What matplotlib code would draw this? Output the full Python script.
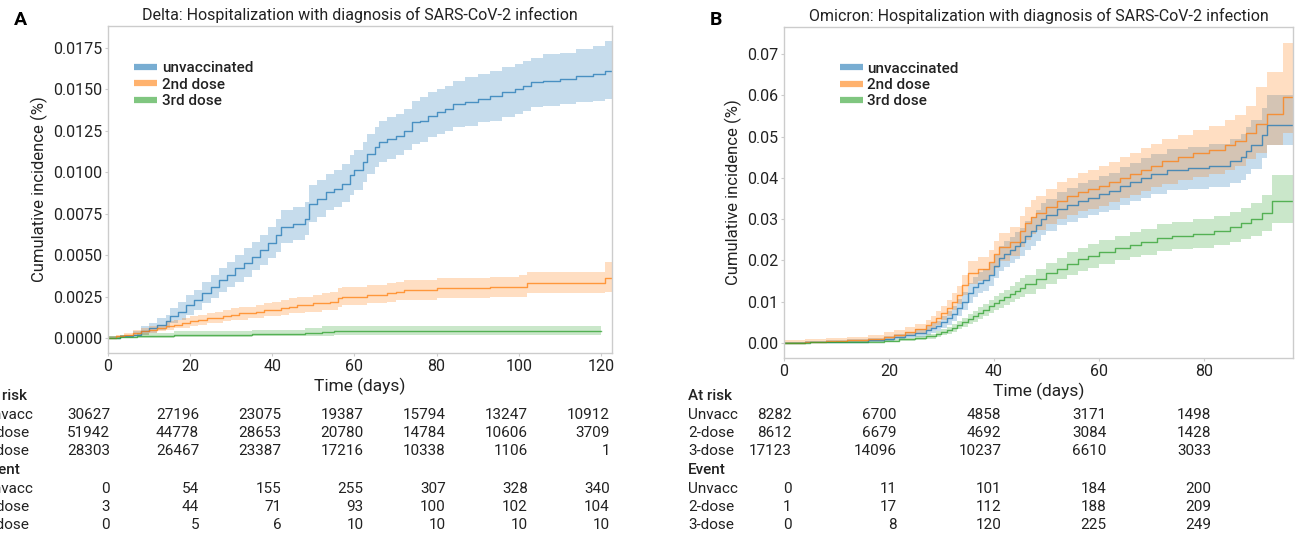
import matplotlib
matplotlib.use("Agg")
import matplotlib.pyplot as plt
import matplotlib.transforms as mtransforms
from matplotlib.lines import Line2D
import numpy as np

plt.rcParams['font.family'] = ['Roboto', 'DejaVu Sans']

# ---- Delta (panel A) ----
delta_unvacc_t = [0, 3, 6, 8, 10, 12, 14, 15, 17, 19, 21, 23, 25, 27, 29, 31, 33, 35, 37, 39,
                  41, 42, 45, 48, 49, 51, 53, 55, 57, 59, 60, 62, 63, 65, 66, 68, 70, 72, 74, 76,
                  78, 80, 82, 84, 87, 90, 93, 96, 99, 101, 103, 106, 110, 114, 118, 121]
delta_unvacc = [0.0000, 0.0001, 0.0002, 0.0004, 0.0006, 0.0008, 0.0010, 0.0013, 0.0016, 0.0020,
                0.0023, 0.0027, 0.0031, 0.0035, 0.0038, 0.0042, 0.0045, 0.0049, 0.0053, 0.0057,
                0.0062, 0.0067, 0.0069, 0.0072, 0.0081, 0.0084, 0.0088, 0.0090, 0.0093, 0.0098,
                0.0101, 0.0106, 0.0111, 0.0115, 0.0118, 0.0120, 0.0122, 0.0125, 0.0130, 0.0131,
                0.0134, 0.0136, 0.0138, 0.0141, 0.0142, 0.0144, 0.0146, 0.0148, 0.0150, 0.0152,
                0.0154, 0.0155, 0.0156, 0.0158, 0.0159, 0.0161]
delta_unvacc_hi = [0.0001, 0.0002, 0.0004, 0.0007, 0.0009, 0.0012, 0.0014, 0.0018, 0.0022, 0.0026,
                   0.0029, 0.0034, 0.0038, 0.0042, 0.0046, 0.0050, 0.0054, 0.0058, 0.0062, 0.0067,
                   0.0072, 0.0077, 0.0079, 0.0082, 0.0092, 0.0095, 0.0099, 0.0101, 0.0105, 0.0110,
                   0.0113, 0.0118, 0.0123, 0.0127, 0.0131, 0.0133, 0.0135, 0.0138, 0.0143, 0.0145,
                   0.0148, 0.0150, 0.0152, 0.0155, 0.0157, 0.0159, 0.0161, 0.0163, 0.0165, 0.0167,
                   0.0169, 0.0171, 0.0172, 0.0174, 0.0176, 0.0179]
delta_unvacc_lo = [0.0000, 0.0000, 0.0001, 0.0002, 0.0003, 0.0005, 0.0006, 0.0009, 0.0011, 0.0014,
                   0.0017, 0.0021, 0.0024, 0.0028, 0.0031, 0.0034, 0.0037, 0.0041, 0.0044, 0.0048,
                   0.0052, 0.0057, 0.0059, 0.0062, 0.0070, 0.0073, 0.0077, 0.0079, 0.0082, 0.0086,
                   0.0089, 0.0094, 0.0099, 0.0103, 0.0106, 0.0108, 0.0110, 0.0113, 0.0117, 0.0118,
                   0.0121, 0.0123, 0.0125, 0.0127, 0.0128, 0.0130, 0.0131, 0.0133, 0.0135, 0.0137,
                   0.0139, 0.0140, 0.0141, 0.0142, 0.0143, 0.0144]

delta_dose2_t = [0, 2, 4, 6, 8, 10, 12, 14, 16, 18, 20, 22, 24, 26, 28, 30, 32, 34, 36, 38,
                 40, 42, 44, 46, 48, 50, 52, 54, 56, 57, 60, 63, 66, 68, 70, 72, 75, 80, 85, 90,
                 93, 100, 102, 110, 121]
delta_dose2 = [0.0000, 0.0001, 0.0002, 0.0003, 0.0004, 0.0005, 0.0006, 0.0007, 0.0008, 0.0009,
               0.0010, 0.0011, 0.0012, 0.0012, 0.0013, 0.0014, 0.0015, 0.0015, 0.0016, 0.0017,
               0.0017, 0.0018, 0.0019, 0.0020, 0.0020, 0.0021, 0.0021, 0.0022, 0.0024, 0.0025,
               0.0025, 0.0026, 0.0026, 0.0027, 0.0028, 0.0029, 0.0029, 0.0030, 0.0030, 0.0030,
               0.0031, 0.0031, 0.0033, 0.0033, 0.0036]
delta_dose2_hi = [0.0001, 0.0002, 0.0003, 0.0005, 0.0006, 0.0007, 0.0008, 0.0010, 0.0011, 0.0012,
                  0.0013, 0.0014, 0.0015, 0.0016, 0.0017, 0.0018, 0.0019, 0.0019, 0.0020, 0.0021,
                  0.0022, 0.0023, 0.0024, 0.0025, 0.0025, 0.0026, 0.0027, 0.0028, 0.0030, 0.0031,
                  0.0031, 0.0032, 0.0032, 0.0033, 0.0034, 0.0035, 0.0035, 0.0036, 0.0036, 0.0036,
                  0.0037, 0.0038, 0.0040, 0.0040, 0.0046]
delta_dose2_lo = [0.0000, 0.0000, 0.0001, 0.0001, 0.0002, 0.0003, 0.0004, 0.0005, 0.0006, 0.0006,
                  0.0007, 0.0008, 0.0009, 0.0009, 0.0010, 0.0011, 0.0011, 0.0012, 0.0012, 0.0013,
                  0.0013, 0.0014, 0.0015, 0.0015, 0.0016, 0.0016, 0.0017, 0.0017, 0.0019, 0.0020,
                  0.0020, 0.0021, 0.0021, 0.0022, 0.0023, 0.0023, 0.0023, 0.0024, 0.0024, 0.0024,
                  0.0025, 0.0025, 0.0027, 0.0027, 0.0028]

delta_dose3_t = [0, 3, 7, 10, 16, 25, 35, 45, 48, 52, 55, 120]
delta_dose3 = [0.0, 0.00005, 0.0001, 0.00012, 0.0002, 0.0002, 0.00022, 0.00025, 0.0003, 0.00035, 0.0004, 0.0004]
delta_dose3_hi = [0.0001, 0.0002, 0.0003, 0.0003, 0.0004, 0.00045, 0.0005, 0.0005, 0.0006, 0.0007, 0.00075, 0.00075]
delta_dose3_lo = [0.0, 0.0, 0.0, 0.0, 0.00005, 0.00005, 0.0001, 0.0001, 0.00012, 0.00015, 0.00016, 0.00016]

# ---- Omicron (panel B) ----
omi_unvacc_t = [0, 4, 8, 12, 16, 19, 21, 23, 25, 27, 28, 29, 30, 31, 32, 33, 34, 35, 36, 37,
                38, 39, 40, 41, 42, 43, 44, 45, 46, 47, 48, 49, 50, 52, 54, 56, 58, 60, 62, 64,
                66, 68, 70, 73, 77, 81, 85, 87, 88, 89, 91, 92]
omi_unvacc = [0.0000, 0.0001, 0.0002, 0.0003, 0.0006, 0.0010, 0.0014, 0.0018, 0.0024, 0.0030,
              0.0035, 0.0040, 0.0050, 0.0060, 0.0070, 0.0085, 0.0100, 0.0120, 0.0135, 0.0145,
              0.0152, 0.0165, 0.0185, 0.0205, 0.0215, 0.0225, 0.0235, 0.0245, 0.0260, 0.0270,
              0.0285, 0.0300, 0.0310, 0.0325, 0.0335, 0.0345, 0.0352, 0.0360, 0.0368, 0.0380,
              0.0390, 0.0400, 0.0410, 0.0420, 0.0425, 0.0430, 0.0440, 0.0450, 0.0465, 0.0480,
              0.0505, 0.0528]
omi_unvacc_hi = [0.0003, 0.0004, 0.0006, 0.0008, 0.0012, 0.0017, 0.0022, 0.0027, 0.0034, 0.0041,
                 0.0047, 0.0053, 0.0065, 0.0077, 0.0088, 0.0105, 0.0122, 0.0144, 0.0160, 0.0171,
                 0.0179, 0.0193, 0.0214, 0.0235, 0.0246, 0.0257, 0.0268, 0.0279, 0.0295, 0.0306,
                 0.0322, 0.0338, 0.0349, 0.0365, 0.0376, 0.0387, 0.0395, 0.0404, 0.0413, 0.0426,
                 0.0437, 0.0448, 0.0459, 0.0470, 0.0476, 0.0482, 0.0494, 0.0506, 0.0523, 0.0540,
                 0.0570, 0.0600]
omi_unvacc_lo = [0.0000, 0.0000, 0.0000, 0.0001, 0.0003, 0.0005, 0.0008, 0.0011, 0.0015, 0.0020,
                 0.0024, 0.0028, 0.0036, 0.0044, 0.0053, 0.0066, 0.0079, 0.0097, 0.0111, 0.0120,
                 0.0126, 0.0138, 0.0157, 0.0175, 0.0184, 0.0193, 0.0202, 0.0211, 0.0225, 0.0234,
                 0.0248, 0.0262, 0.0271, 0.0285, 0.0294, 0.0303, 0.0309, 0.0316, 0.0323, 0.0334,
                 0.0343, 0.0352, 0.0361, 0.0370, 0.0374, 0.0378, 0.0387, 0.0396, 0.0409, 0.0422,
                 0.0448, 0.0480]

omi_dose2_t = [0, 4, 8, 12, 16, 19, 21, 23, 25, 27, 28, 29, 30, 31, 32, 33, 34, 35, 37, 39,
               40, 41, 43, 45, 46, 47, 48, 50, 52, 54, 56, 58, 60, 62, 64, 66, 68, 70, 72, 75,
               78, 81, 84, 86, 88, 90, 92, 95]
omi_dose2 = [0.0000, 0.0002, 0.0004, 0.0006, 0.0010, 0.0015, 0.0020, 0.0026, 0.0033, 0.0042,
             0.0050, 0.0060, 0.0072, 0.0085, 0.0100, 0.0115, 0.0140, 0.0170, 0.0180, 0.0195,
             0.0215, 0.0232, 0.0245, 0.0270, 0.0290, 0.0305, 0.0315, 0.0330, 0.0345, 0.0355,
             0.0365, 0.0372, 0.0380, 0.0390, 0.0400, 0.0410, 0.0420, 0.0430, 0.0440, 0.0450,
             0.0460, 0.0468, 0.0480, 0.0490, 0.0510, 0.0530, 0.0555, 0.0595]
omi_dose2_hi = [0.0006, 0.0008, 0.0011, 0.0014, 0.0019, 0.0025, 0.0031, 0.0038, 0.0046, 0.0056,
                0.0065, 0.0076, 0.0090, 0.0104, 0.0121, 0.0138, 0.0165, 0.0198, 0.0209, 0.0226,
                0.0248, 0.0266, 0.0280, 0.0308, 0.0330, 0.0346, 0.0357, 0.0373, 0.0389, 0.0400,
                0.0411, 0.0419, 0.0428, 0.0439, 0.0450, 0.0461, 0.0472, 0.0483, 0.0494, 0.0505,
                0.0517, 0.0526, 0.0540, 0.0552, 0.0575, 0.0620, 0.0656, 0.0728]
omi_dose2_lo = [0.0000, 0.0001, 0.0002, 0.0003, 0.0005, 0.0008, 0.0012, 0.0016, 0.0022, 0.0029,
                0.0035, 0.0044, 0.0054, 0.0066, 0.0080, 0.0093, 0.0115, 0.0142, 0.0151, 0.0164,
                0.0182, 0.0198, 0.0210, 0.0232, 0.0250, 0.0264, 0.0273, 0.0287, 0.0301, 0.0310,
                0.0319, 0.0325, 0.0332, 0.0341, 0.0350, 0.0359, 0.0368, 0.0377, 0.0386, 0.0395,
                0.0403, 0.0410, 0.0420, 0.0428, 0.0445, 0.0460, 0.0480, 0.0509]

omi_dose3_t = [0, 5, 10, 15, 19, 22, 25, 27, 29, 30, 31, 32, 33, 34, 35, 36, 37, 38, 39,
               40, 41, 42, 43, 44, 45, 46, 48, 50, 52, 54, 56, 58, 60, 63, 66, 68, 71, 74, 78,
               82, 85, 87, 89, 91, 93]
omi_dose3 = [0.0000, 0.0001, 0.0002, 0.0003, 0.0005, 0.0008, 0.0012, 0.0016, 0.0022, 0.0026,
             0.0030, 0.0036, 0.0043, 0.0050, 0.0057, 0.0064, 0.0072, 0.0080, 0.0088,
             0.0096, 0.0103, 0.0110, 0.0118, 0.0126, 0.0134, 0.0142, 0.0155, 0.0168, 0.0180,
             0.0192, 0.0202, 0.0210, 0.0220, 0.0230, 0.0238, 0.0245, 0.0255, 0.0260, 0.0265,
             0.0272, 0.0280, 0.0290, 0.0300, 0.0315, 0.0344]
omi_dose3_hi = [0.0001, 0.0002, 0.0004, 0.0005, 0.0008, 0.0012, 0.0017, 0.0022, 0.0029, 0.0034,
                0.0038, 0.0045, 0.0053, 0.0061, 0.0069, 0.0077, 0.0086, 0.0095, 0.0104,
                0.0113, 0.0121, 0.0129, 0.0138, 0.0147, 0.0156, 0.0165, 0.0179, 0.0193, 0.0206,
                0.0219, 0.0230, 0.0239, 0.0249, 0.0260, 0.0269, 0.0277, 0.0288, 0.0293, 0.0299,
                0.0307, 0.0316, 0.0328, 0.0340, 0.0358, 0.0407]
omi_dose3_lo = [0.0000, 0.0000, 0.0001, 0.0001, 0.0002, 0.0004, 0.0007, 0.0010, 0.0015, 0.0018,
                0.0022, 0.0027, 0.0033, 0.0039, 0.0045, 0.0051, 0.0058, 0.0065, 0.0072,
                0.0079, 0.0085, 0.0091, 0.0098, 0.0105, 0.0112, 0.0119, 0.0131, 0.0143, 0.0154,
                0.0165, 0.0174, 0.0181, 0.0191, 0.0200, 0.0207, 0.0213, 0.0222, 0.0227, 0.0231,
                0.0237, 0.0244, 0.0252, 0.0260, 0.0272, 0.0290]

series_labels = ['unvaccinated', '2nd dose', '3rd dose']
row_labels = ['Unvacc', '2-dose', '3-dose']

delta_ticks = [0, 20, 40, 60, 80, 100, 120]
delta_at_risk = [[30627, 27196, 23075, 19387, 15794, 13247, 10912],
                 [51942, 44778, 28653, 20780, 14784, 10606, 3709],
                 [28303, 26467, 23387, 17216, 10338, 1106, 1]]
delta_events = [[0, 54, 155, 255, 307, 328, 340],
                [3, 44, 71, 93, 100, 102, 104],
                [0, 5, 6, 10, 10, 10, 10]]

omi_ticks = [0, 20, 40, 60, 80]
omi_at_risk = [[8282, 6700, 4858, 3171, 1498],
               [8612, 6679, 4692, 3084, 1428],
               [17123, 14096, 10237, 6610, 3033]]
omi_events = [[0, 11, 101, 184, 200],
              [1, 17, 112, 188, 209],
              [0, 8, 120, 225, 249]]

colors = ['#1f77b4', '#ff7f0e', '#2ca02c']
W, H = 1297, 535
TXT = '#222222'


def draw_curve(ax, t, est, lo, hi, color, t_end=None):
    t = list(t)
    est, lo, hi = list(est), list(lo), list(hi)
    if t_end is not None:
        # carry the last value on to the right edge, like the KM plot does
        t.append(t_end)
        est.append(est[-1])
        lo.append(lo[-1])
        hi.append(hi[-1])
    ax.fill_between(t, lo, hi, step='post', color=color, alpha=0.25, linewidth=0)
    ax.plot(t, est, drawstyle='steps-post', color=color, alpha=0.75, linewidth=1.0)


def style_axes(ax):
    for s in ax.spines.values():
        s.set_color('#cccccc')
        s.set_linewidth(1.0)
    ax.tick_params(length=2.5, width=0.8, color='#cccccc', labelsize=11.5, pad=1.5,
                   labelcolor=TXT)


def add_table(fig, ax, ticks, at_risk, events, label_x, offsets):
    rows_y = [396, 415, 433, 451, 470, 489, 507, 525]
    yf = [1 - y / H for y in rows_y]
    fs = 11
    fig.text(label_x, yf[0], 'At risk', fontsize=fs, fontweight='medium', va='center', ha='left', color=TXT)
    fig.text(label_x, yf[4], 'Event', fontsize=fs, fontweight='medium', va='center', ha='left', color=TXT)
    for i in range(3):
        fig.text(label_x, yf[1 + i], row_labels[i], fontsize=fs, va='center', ha='left', color=TXT)
        fig.text(label_x, yf[5 + i], row_labels[i], fontsize=fs, va='center', ha='left', color=TXT)
    base = mtransforms.blended_transform_factory(ax.transData, fig.transFigure)
    for j, tk in enumerate(ticks):
        tr = mtransforms.offset_copy(base, fig=fig, x=offsets[j], y=0, units='points')
        for i in range(3):
            fig.text(tk, yf[1 + i], str(at_risk[i][j]), transform=tr, fontsize=fs,
                     va='center', ha='right', color=TXT)
            fig.text(tk, yf[5 + i], str(events[i][j]), transform=tr, fontsize=fs,
                     va='center', ha='right', color=TXT)


fig = plt.figure(figsize=(W / 100, H / 100), dpi=100)

# panel A
axA = fig.add_axes([108 / W, 1 - 353 / H, 504 / W, 327 / H])
draw_curve(axA, delta_unvacc_t, delta_unvacc, delta_unvacc_lo, delta_unvacc_hi, colors[0], 122.7)
draw_curve(axA, delta_dose2_t, delta_dose2, delta_dose2_lo, delta_dose2_hi, colors[1], 122.7)
draw_curve(axA, delta_dose3_t, delta_dose3, delta_dose3_lo, delta_dose3_hi, colors[2])
axA.set_xlim(0, 122.7)
axA.set_ylim(-0.0009, 0.0188)
axA.set_xticks(delta_ticks)
axA.set_yticks(np.arange(0, 0.0176, 0.0025))
axA.yaxis.set_major_formatter(matplotlib.ticker.FormatStrFormatter('%.4f'))
style_axes(axA)
axA.set_title('Delta: Hospitalization with diagnosis of SARS-CoV-2 infection', fontsize=11.5,
              pad=4, color=TXT)
axA.set_xlabel('Time (days)', fontsize=12.5, labelpad=3, color=TXT)
axA.set_ylabel('Cumulative incidence (%)', fontsize=12, labelpad=4, color=TXT)

# panel B
axB = fig.add_axes([784 / W, 1 - 358 / H, 509 / W, 331 / H])
draw_curve(axB, omi_unvacc_t, omi_unvacc, omi_unvacc_lo, omi_unvacc_hi, colors[0], 97)
draw_curve(axB, omi_dose2_t, omi_dose2, omi_dose2_lo, omi_dose2_hi, colors[1], 97)
draw_curve(axB, omi_dose3_t, omi_dose3, omi_dose3_lo, omi_dose3_hi, colors[2], 97)
axB.set_xlim(0, 97)
axB.set_ylim(-0.0037, 0.0766)
axB.set_xticks(omi_ticks)
axB.set_yticks(np.arange(0, 0.071, 0.01))
axB.yaxis.set_major_formatter(matplotlib.ticker.FormatStrFormatter('%.2f'))
style_axes(axB)
axB.set_title('Omicron: Hospitalization with diagnosis of SARS-CoV-2 infection', fontsize=11.5,
              pad=4, color=TXT)
axB.set_xlabel('Time (days)', fontsize=12.5, labelpad=3, color=TXT)
axB.set_ylabel('Cumulative incidence (%)', fontsize=12, labelpad=4, color=TXT)

handles = [Line2D([0], [0], color=c, lw=4.5, alpha=0.6, solid_capstyle='butt') for c in colors]
for ax, anchor in [(axA, (0.037, 0.915)), (axB, (0.095, 0.918))]:
    ax.legend(handles, series_labels, loc='upper left', bbox_to_anchor=anchor, frameon=False,
              handlelength=1.5, handletextpad=0.3, labelspacing=0.15, borderpad=0,
              labelcolor=TXT, prop={'weight': 'medium', 'size': 11})

add_table(fig, axA, delta_ticks, delta_at_risk, delta_events, -17 / W, [1.5] + [6.5] * 6)
add_table(fig, axB, omi_ticks, omi_at_risk, omi_events, 688 / W, [5.5] * 5)

fig.text(20 / W, 1 - 20 / H, 'A', fontsize=14, fontweight='bold', va='center', ha='center')
fig.text(716 / W, 1 - 20 / H, 'B', fontsize=14, fontweight='bold', va='center', ha='center')

fig.savefig('out.png', dpi=100)
